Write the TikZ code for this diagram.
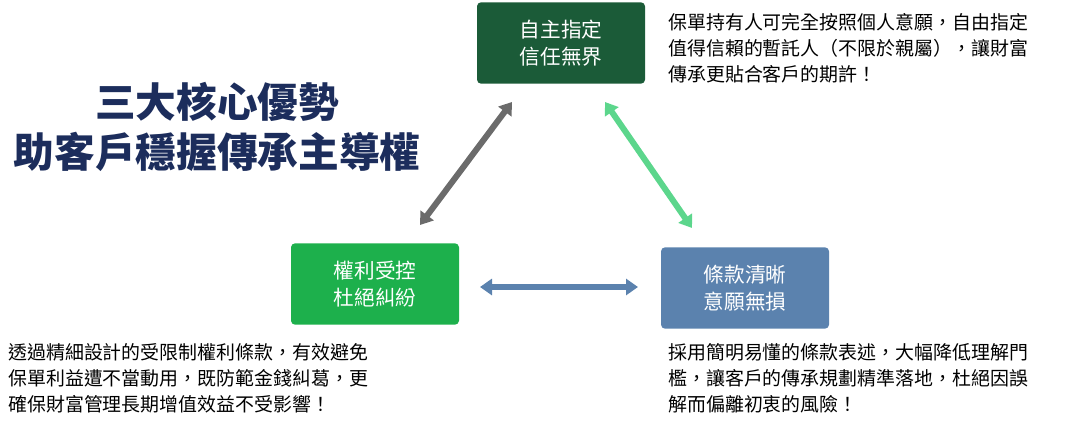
\documentclass[tikz,border=0pt]{standalone}
\usepackage{fontspec}
\setmainfont{Noto Sans CJK TC}
\usetikzlibrary{arrows.meta}
\definecolor{dg}{HTML}{1B5B38}
\definecolor{mg}{HTML}{1DB04C}
\definecolor{bl}{HTML}{5B82AE}
\definecolor{lg}{HTML}{5CD68C}
\definecolor{gr}{HTML}{6B6B6B}
\definecolor{nv}{HTML}{1C2D5C}
\begin{document}
\begin{tikzpicture}[x=0.75pt,y=-0.75pt,
 box/.style={draw=none,rounded corners=3pt,minimum width=126pt,minimum height=61pt,text=white,font=\fontsize{15.5}{20}\selectfont,align=center},
 para/.style={anchor=north west,align=left,font=\fontsize{14.2}{19.5}\selectfont,inner sep=0pt},
 arr/.style={line width=4.5pt,{Triangle[length=9pt,width=12pt]}-{Triangle[length=9pt,width=12pt]},shorten <=0pt}]
\useasboundingbox (0,0) rectangle (1080,424);
\node[font=\fontsize{30.5}{37}\selectfont\bfseries,text=nv,align=center] (title) at (217,127) {三大核心優勢\\助客戶穩握傳承主導權};
\node[box,fill=dg] (a) at (561,43) {自主指定\\信任無界};
\node[box,fill=mg] (b) at (375,284) {權利受控\\杜絕糾紛};
\node[box,fill=bl] (c) at (745,288) {條款清晰\\意願無損};
\coordinate (g1) at (420,225); \coordinate (g2) at (512,102);
\coordinate (l1) at (605,102); \coordinate (l2) at (692,228);
\coordinate (h1) at (480,287); \coordinate (h2) at (638,287);
\draw[arr,gr] (g1) -- (g2);
\draw[arr,lg] (l1) -- (l2);
\draw[arr,bl] (h1) -- (h2);
\node[para] (t1) at (668,13) {保單持有人可完全按照個人意願，自由指定\\值得信賴的暫託人（不限於親屬），讓財富\\傳承更貼合客戶的期許！};
\node[para] (t2) at (8,343) {透過精細設計的受限制權利條款，有效避免\\保單利益遭不當動用，既防範金錢糾葛，更\\確保財富管理長期增值效益不受影響！};
\node[para] (t3) at (668,343) {採用簡明易懂的條款表述，大幅降低理解門\\檻，讓客戶的傳承規劃精準落地，杜絕因誤\\解而偏離初衷的風險！};
\end{tikzpicture}
\end{document}
